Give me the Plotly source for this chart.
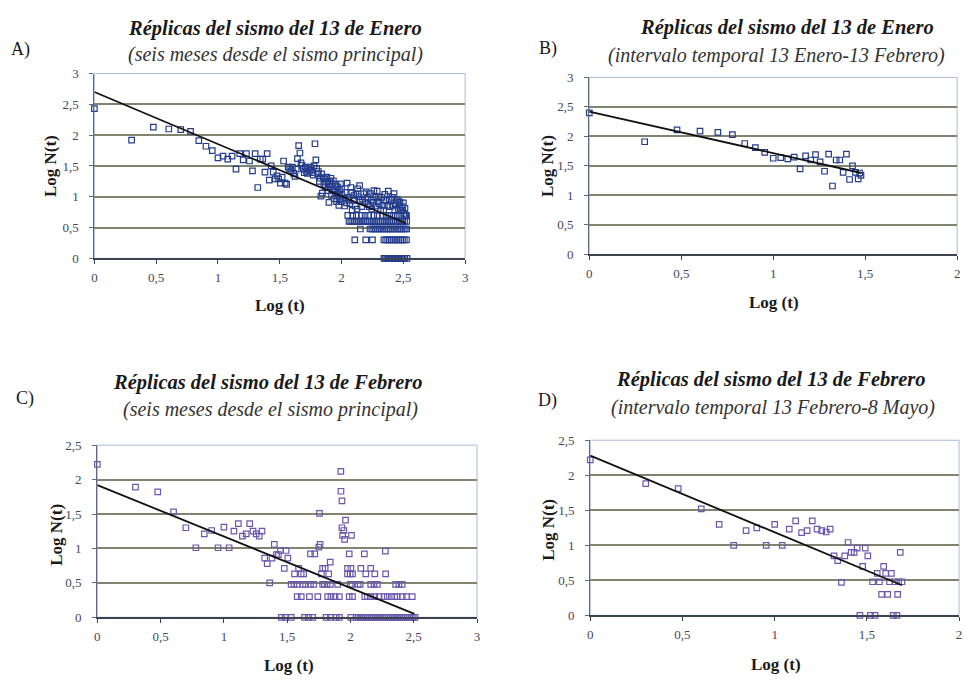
import plotly.graph_objects as go

# ---------------- DATA ----------------
# Panel A: scattered points (Log t, Log N)
a_logt = [0, 0.301, 0.477, 0.602, 0.699, 0.778, 0.845, 0.903, 0.954, 1.0, 1.041, 1.079, 1.114, 1.146,
          1.176, 1.204, 1.23, 1.255, 1.279, 1.301, 1.322, 1.342, 1.362, 1.38, 1.398, 1.415, 1.431, 1.447,
          1.462, 1.477, 1.491, 1.505, 1.519, 1.531, 1.544, 1.556, 1.568, 1.58, 1.591, 1.602, 1.613, 1.623,
          1.633, 1.643, 1.653, 1.663, 1.672, 1.681, 1.69, 1.699, 1.708, 1.716, 1.724, 1.732, 1.74, 1.748,
          1.756, 1.763, 1.771, 1.778, 1.785, 1.792, 1.799, 1.806, 1.813, 1.82, 1.826, 1.833, 1.839, 1.845,
          1.851, 1.857, 1.863, 1.869, 1.875, 1.881, 1.886, 1.892, 1.898, 1.903, 1.908, 1.914, 1.919, 1.924,
          1.929, 1.934, 1.94, 1.944, 1.949, 1.954, 1.959, 1.964, 1.968, 1.973, 1.978, 1.982, 1.987, 1.991,
          1.996, 2.0, 2.004, 2.017, 2.03, 2.045, 2.057, 2.068, 2.083, 2.086, 2.097, 2.117, 2.13, 2.146,
          2.152, 2.164, 2.179, 2.19, 2.21, 2.225, 2.233, 2.253, 2.27, 2.288, 2.305, 2.326, 2.34, 2.358,
          2.378, 2.39, 2.412, 2.425, 2.441, 2.458, 2.473, 2.49, 2.505, 2.513, 2.04, 2.075, 2.11, 2.14,
          2.2, 2.24, 2.262, 2.28, 2.3, 2.316, 2.35, 2.368, 2.4, 2.43, 2.45, 2.48, 2.5, 2.52, 2.025,
          2.06, 2.1, 2.125, 2.17, 2.215, 2.245, 2.295, 2.335, 2.385, 2.42, 2.465, 2.495]
a_logn = [2.43, 1.92, 2.13, 2.10, 2.09, 2.06, 1.91, 1.82, 1.75, 1.63, 1.66, 1.61, 1.66, 1.45,
          1.70, 1.60, 1.70, 1.58, 1.42, 1.70, 1.15, 1.61, 1.61, 1.40, 1.70, 1.27, 1.50, 1.40,
          1.29, 1.34, 1.29, 1.22, 1.32, 1.58, 1.22, 1.20, 1.48, 1.45, 1.42, 1.48, 1.38, 1.33,
          1.45, 1.62, 1.83, 1.71, 1.55, 1.51, 1.45, 1.39, 1.48, 1.41, 1.38, 1.45, 1.41, 1.48,
          1.43, 1.39, 1.35, 1.50, 1.86, 1.60, 1.46, 1.37, 1.41, 1.25, 1.30, 1.01, 1.37, 1.06,
          1.31, 1.20, 1.29, 1.15, 1.25, 1.32, 1.10, 1.21, 0.91, 1.25, 1.16, 1.30, 1.02, 1.21,
          1.10, 1.26, 0.97, 1.13, 1.07, 1.20, 0.92, 1.02, 1.16, 1.05, 0.86, 1.10, 0.97, 1.21,
          0.92, 1.13, 1.02, 0.97, 1.07, 1.22, 0.99, 0.89, 1.07, 0.78, 0.94, 1.05, 1.13, 1.18,
          0.94, 0.84, 1.05, 0.91, 0.99, 0.84, 1.05, 0.91, 0.99, 1.09, 0.89, 0.99, 0.78, 0.94,
          1.09, 0.84, 0.99, 1.05, 0.89, 0.81, 0.91, 0.84, 0.73, 0.81, 0.90, 1.15, 0.85, 1.00,
          1.08, 0.95, 1.10, 0.85, 1.00, 0.78, 1.04, 0.86, 0.95, 0.78, 0.95, 0.78, 0.90, 0.70, 0.85,
          0.95, 1.02, 0.80, 0.96, 0.88, 0.80, 0.92, 0.86, 0.96, 0.85, 0.92, 0.78]
# Panel A: points lying on discrete Log N levels
a_level_0699 = 0.699
a_t_0699 = [2.05, 2.09, 2.12, 2.16, 2.19, 2.22, 2.26, 2.29, 2.33, 2.36, 2.39, 2.42, 2.45, 2.48, 2.51, 2.525]
a_level_0602 = 0.602
a_t_0602 = [2.06, 2.075, 2.09, 2.105, 2.12, 2.135, 2.15, 2.165, 2.18, 2.195, 2.21, 2.225, 2.24, 2.255,
            2.27, 2.285, 2.3, 2.315, 2.33, 2.345, 2.36, 2.375, 2.39, 2.405, 2.42, 2.435, 2.45, 2.465,
            2.48, 2.495, 2.51, 2.527]
a_level_0477 = 0.477
a_t_0477 = [2.152, 2.23, 2.245, 2.26, 2.275, 2.29, 2.305, 2.32, 2.335, 2.35, 2.365, 2.38, 2.395, 2.41,
            2.425, 2.44, 2.455, 2.47, 2.485, 2.5, 2.515, 2.527]
a_level_0301 = 0.301
a_t_0301 = [2.107, 2.196, 2.25, 2.343, 2.358, 2.373, 2.388, 2.403, 2.418, 2.433, 2.448, 2.463, 2.478,
            2.493, 2.508, 2.525]
a_level_0 = 0.0
a_t_0 = [2.343, 2.355, 2.367, 2.379, 2.391, 2.403, 2.415, 2.427, 2.439, 2.451, 2.463, 2.475, 2.487,
         2.499, 2.511, 2.53]
a_fit_t = [0, 2.52]
a_fit_n = [2.70, 0.57]

# Panel B
b_logt = [0, 0.301, 0.477, 0.602, 0.699, 0.778, 0.845, 0.903, 0.954, 1.0, 1.041, 1.079, 1.114, 1.146,
          1.176, 1.204, 1.23, 1.255, 1.279, 1.301, 1.322, 1.342, 1.362, 1.38, 1.398, 1.415, 1.431,
          1.447, 1.462, 1.47, 1.477]
b_logn = [2.40, 1.91, 2.11, 2.09, 2.07, 2.03, 1.88, 1.81, 1.73, 1.63, 1.64, 1.62, 1.65, 1.45,
          1.67, 1.60, 1.69, 1.57, 1.41, 1.70, 1.16, 1.60, 1.60, 1.39, 1.70, 1.27, 1.50,
          1.39, 1.28, 1.38, 1.34]
b_fit_t = [0, 1.48]
b_fit_n = [2.42, 1.38]

# Panel C: scattered points
c_logt = [0, 0.301, 0.477, 0.602, 0.699, 0.778, 0.845, 0.903, 0.954, 1.0, 1.041, 1.079, 1.114, 1.146,
          1.176, 1.204, 1.23, 1.255, 1.279, 1.301, 1.322, 1.342, 1.362, 1.38, 1.398, 1.415, 1.431,
          1.447, 1.477, 1.491, 1.505, 1.924, 1.925, 1.933, 1.755, 1.961, 1.933, 1.948, 1.938, 2.008,
          1.954, 1.76, 1.75, 1.99, 2.11, 2.276, 1.684, 1.718, 1.84, 1.78, 1.80, 1.977, 2.003, 2.082,
          2.16, 1.59, 1.558, 1.61, 1.63, 1.77, 1.828, 1.977, 1.998, 2.016, 2.121, 2.192, 2.278]
c_logn = [2.22, 1.89, 1.82, 1.53, 1.30, 1.01, 1.21, 1.26, 1.01, 1.31, 1.01, 1.25, 1.36, 1.18,
          1.21, 1.36, 1.25, 1.21, 1.18, 1.25, 0.86, 0.78, 0.50, 0.86, 1.06, 0.91, 0.91,
          0.97, 0.71, 0.97, 0.86, 2.12, 1.83, 1.69, 1.51, 1.41, 1.30, 1.26, 1.19, 1.19,
          1.13, 1.06, 1.02, 0.92, 0.92, 0.96, 0.92, 0.92, 0.80, 0.71, 0.71, 0.71, 0.71, 0.71,
          0.71, 0.71, 0.63, 0.63, 0.63, 0.63, 0.63, 0.63, 0.63, 0.63, 0.63, 0.63, 0.63]
# Panel C: points on discrete Log N levels
c_level_0477 = 0.477
c_t_0477 = [1.531, 1.553, 1.579, 1.624, 1.645, 1.684, 1.71, 1.78, 1.794, 1.815, 1.841, 1.899, 1.998,
            2.011, 2.061, 2.077, 2.16, 2.186, 2.213, 2.357, 2.383, 2.409]
c_level_0301 = 0.301
c_t_0301 = [1.579, 1.611, 1.676, 1.742, 1.82, 1.846, 1.878, 1.912, 1.99, 2.016, 2.113, 2.134, 2.16,
            2.192, 2.226, 2.265, 2.291, 2.323, 2.349, 2.37, 2.409, 2.443, 2.488]
c_level_0 = 0.0
c_t_0 = [1.454, 1.485, 1.532, 1.637, 1.668, 1.702, 1.807, 1.841, 1.886, 1.912, 2.003, 2.045, 2.06,
         2.075, 2.09, 2.105, 2.12, 2.135, 2.15, 2.165, 2.18, 2.195, 2.21, 2.225, 2.24, 2.255, 2.27,
         2.285, 2.3, 2.315, 2.33, 2.345, 2.36, 2.375, 2.39, 2.405, 2.42, 2.435, 2.45, 2.465, 2.48,
         2.495, 2.51]
c_fit_t = [0, 2.505]
c_fit_n = [1.92, 0.05]

# Panel D
d_logt = [0, 0.301, 0.477, 0.602, 0.699, 0.778, 0.845, 0.903, 0.954, 1.0, 1.041, 1.079, 1.114, 1.146,
          1.176, 1.204, 1.23, 1.255, 1.279, 1.301, 1.322, 1.342, 1.362, 1.38, 1.398, 1.415, 1.431,
          1.447, 1.462, 1.477, 1.491, 1.505, 1.519, 1.531, 1.544, 1.556, 1.568, 1.58, 1.591, 1.602,
          1.613, 1.623, 1.633, 1.643, 1.653, 1.663, 1.672, 1.667, 1.681, 1.69]
d_logn = [2.22, 1.88, 1.81, 1.52, 1.30, 1.00, 1.21, 1.25, 1.00, 1.30, 1.00, 1.23, 1.35, 1.18,
          1.21, 1.35, 1.23, 1.21, 1.19, 1.23, 0.85, 0.78, 0.47, 0.85, 1.04, 0.90, 0.90,
          0.96, 0.0, 0.70, 0.96, 0.85, 0.0, 0.48, 0.0, 0.60, 0.48, 0.30, 0.70, 0.60,
          0.30, 0.48, 0.60, 0.0, 0.48, 0.0, 0.48, 0.30, 0.90, 0.48]
d_fit_t = [0, 1.69]
d_fit_n = [2.28, 0.43]

# ---------------- FIGURE ----------------
W, H = 964, 683
BLUE = "#243c8c"
PURPLE = "#6a58ae"
SERIF = "Liberation Serif, Times New Roman, serif"

fig = go.Figure()

panels = [
    ("", [0.0954, 0.4824], [0.6237, 0.9004], [0, 3], [0, 3]),
    ("2", [0.612, 0.996], [0.6296, 0.8946], [0, 2], [0, 3]),
    ("3", [0.0985, 0.4948], [0.0864, 0.3441], [0, 3], [0, 2.5]),
    ("4", [0.613, 0.998], [0.0893, 0.3514], [0, 2], [0, 2.5]),
]

def add_points(sfx, xs, ys, color):
    fig.add_trace(go.Scatter(
        x=xs, y=ys, mode="markers", xaxis="x" + sfx, yaxis="y" + sfx,
        marker=dict(symbol="square-open", size=5.5, color=color, line=dict(width=1.2, color=color)),
        cliponaxis=False, showlegend=False, hoverinfo="skip"))

def add_fit(sfx, xs, ys):
    fig.add_trace(go.Scatter(
        x=xs, y=ys, mode="lines", xaxis="x" + sfx, yaxis="y" + sfx,
        line=dict(color="#111111", width=1.8), cliponaxis=False, showlegend=False, hoverinfo="skip"))

# A
add_points("", a_logt, a_logn, BLUE)
add_points("", a_t_0699, [a_level_0699] * len(a_t_0699), BLUE)
add_points("", a_t_0602, [a_level_0602] * len(a_t_0602), BLUE)
add_points("", a_t_0477, [a_level_0477] * len(a_t_0477), BLUE)
add_points("", a_t_0301, [a_level_0301] * len(a_t_0301), BLUE)
add_points("", a_t_0, [a_level_0] * len(a_t_0), BLUE)
add_fit("", a_fit_t, a_fit_n)
# B
add_points("2", b_logt, b_logn, BLUE)
add_fit("2", b_fit_t, b_fit_n)
# C
add_points("3", c_logt, c_logn, PURPLE)
add_points("3", c_t_0477, [c_level_0477] * len(c_t_0477), PURPLE)
add_points("3", c_t_0301, [c_level_0301] * len(c_t_0301), PURPLE)
add_points("3", c_t_0, [c_level_0] * len(c_t_0), PURPLE)
add_fit("3", c_fit_t, c_fit_n)
# D
add_points("4", d_logt, d_logn, PURPLE)
add_fit("4", d_fit_t, d_fit_n)

tickfont = dict(family=SERIF, size=13, color="#44475a")
layout = dict(
    width=W, height=H, margin=dict(l=0, r=0, t=0, b=0),
    paper_bgcolor="white", plot_bgcolor="white",
    separators=",.", showlegend=False,
)
shapes = []
for sfx, xd, yd, xr, yr in panels:
    xa = dict(domain=xd, range=xr, dtick=0.5, tick0=0, showgrid=False, zeroline=False,
              showline=True, linecolor="#3c4452", linewidth=1.5, ticks="outside", ticklen=4,
              tickcolor="#3c4452", tickfont=tickfont, ticklabelstandoff=2,
              anchor="y" + sfx, fixedrange=True)
    ya = dict(domain=yd, range=yr, dtick=0.5, tick0=0, showgrid=True, gridcolor="#80856f",
              gridwidth=1.6, zeroline=False, showline=True, linecolor="#5c6a82", linewidth=1.3,
              ticks="outside", ticklen=4, tickcolor="#5c6a82", tickfont=tickfont,
              ticklabelstandoff=8, anchor="x" + sfx, fixedrange=True)
    layout["xaxis" + sfx] = xa
    layout["yaxis" + sfx] = ya
    shapes.append(dict(type="rect", xref=("x" + sfx) + " domain", yref=("y" + sfx) + " domain",
                       x0=0, x1=1, y0=0, y1=1, line=dict(color="#a9bdd8", width=1), layer="below"))
layout["shapes"] = shapes

def px(x, y):
    return x / W, (H - y) / H

annotations = []
def text(s, x, y, size, bold=False, italic=False, angle=0, color="#1a1a1a"):
    ax, ay = px(x, y)
    t = s
    if bold:
        t = "<b>" + t + "</b>"
    if italic:
        t = "<i>" + t + "</i>"
    annotations.append(dict(text=t, x=ax, y=ay, xref="paper", yref="paper", showarrow=False,
                            xanchor="center", yanchor="middle", textangle=angle,
                            font=dict(family=SERIF, size=size, color=color)))

# Titles
text("Réplicas del sismo del 13 de Enero", 274, 22, 20.5, bold=True, italic=True)
text("(seis meses desde el sismo principal)", 274, 49, 20, italic=True, color="#333333")
text("A)", 18, 43, 18)
text("Réplicas del sismo del 13 de Enero", 789, 21, 20.5, bold=True, italic=True)
text("(intervalo temporal 13 Enero-13 Febrero)", 778, 50, 20, italic=True, color="#333333")
text("B)", 548, 42, 18)
text("Réplicas del sismo del 13 de Febrero", 267, 384, 20.5, bold=True, italic=True)
text("(seis meses desde el sismo principal)", 269, 412, 20, italic=True, color="#333333")
text("C)", 22, 400, 18)
text("Réplicas del sismo del 13 de Febrero", 773, 381, 20.5, bold=True, italic=True)
text("(intervalo temporal 13 Febrero-8 Mayo)", 775, 410, 20, italic=True, color="#333333")
text("D)", 548, 402, 18)
# Axis titles
text("Log (t)", 279, 305, 17, bold=True)
text("Log N(t)", 48, 163, 17, bold=True, angle=-90)
text("Log (t)", 776, 302, 17, bold=True)
text("Log N(t)", 548, 163, 17, bold=True, angle=-90)
text("Log (t)", 288, 673, 17, bold=True)
text("Log N(t)", 53, 540, 17, bold=True, angle=-90)
text("Log (t)", 778, 672, 17, bold=True)
text("Log N(t)", 549, 535, 17, bold=True, angle=-90)
layout["annotations"] = annotations

fig.update_layout(**layout)
fig.write_html("out.html")
